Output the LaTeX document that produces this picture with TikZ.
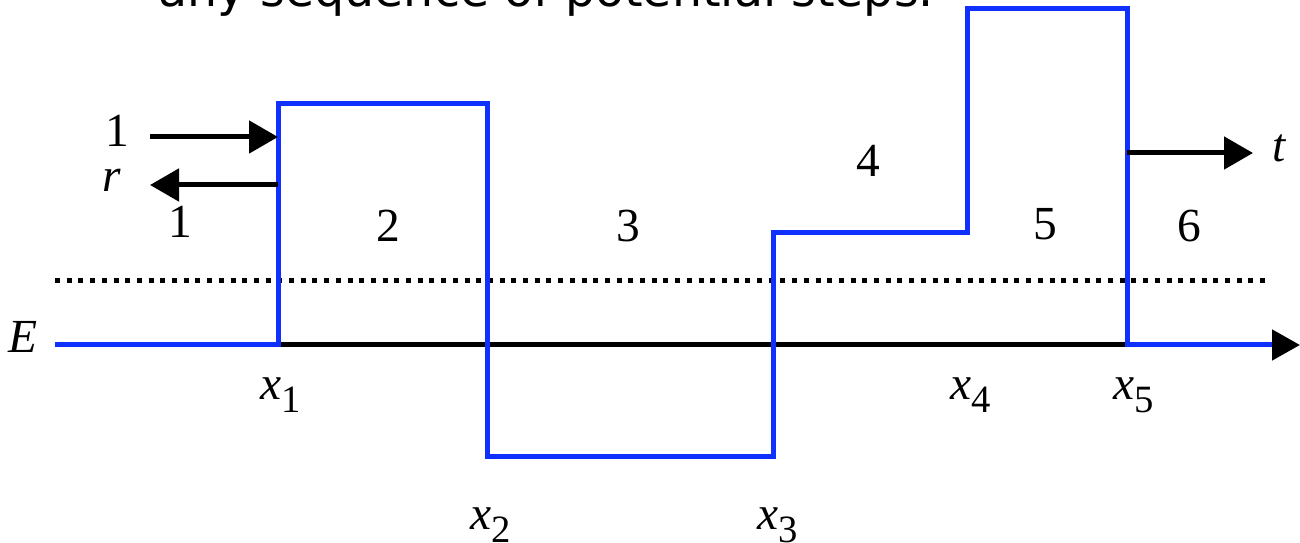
\documentclass[tikz,border=0pt]{standalone}
\usepackage{fontspec}
\usepackage{tikz}
\usetikzlibrary{arrows.meta}
\newfontfamily\labelfont{Liberation Serif}
\newfontfamily\headfont{DejaVu Sans}
\definecolor{potblue}{RGB}{16,48,255}
\newcommand{\xsub}[1]{\textit{x}\raisebox{-0.26cm}{\fontsize{22}{22}\selectfont #1}}

\begin{document}
\begin{tikzpicture}[
  lbl/.style={font=\labelfont\fontsize{27}{30}\selectfont,anchor=base,inner sep=0pt},
  head/.style={font=\headfont\fontsize{27}{30}\selectfont,anchor=base west,inner sep=0pt},
  profile/.style={potblue,line width=0.1cm},
  axis/.style={black,line width=0.1cm,-{Triangle[length=0.56cm,width=0.6cm]}},
  arrow/.style={black,line width=0.1cm,-{Triangle[length=0.58cm,width=0.64cm]}},
  level/.style={black,line width=0.1cm,dash pattern=on 0.1cm off 0.134cm}
]
\clip (0,0) rectangle (26,10.86);

\node[head] (title) at (3.16,10.72) {any sequence of potential steps.};

% step edges
\coordinate (X1) at (5.56,3.96);
\coordinate (X2) at (9.74,3.96);
\coordinate (X3) at (15.46,3.96);
\coordinate (X4) at (19.34,3.96);
\coordinate (X5) at (22.54,3.96);

\draw[level] (1.1,5.24) -- (25.36,5.24);
\draw[axis] (1.1,3.96) -- (26,3.96);
\draw[profile] (1.1,3.96) -- (X1) -- ++(0,4.82) -| (X2) -- ++(0,-2.24)
  -| (X3) -- ++(0,2.24) -| (19.34,10.68) -| (X5) -- (25.44,3.96);

% incoming, reflected, transmitted
\coordinate (inL) at (3.0,8.12);
\coordinate (inR) at (5.56,8.12);
\coordinate (refR) at (5.56,7.16);
\coordinate (refL) at (3.0,7.16);
\coordinate (trL) at (22.54,7.8);
\coordinate (trR) at (25.06,7.8);
\draw[arrow] (inL) -- (inR);
\draw[arrow] (refR) -- (refL);
\draw[arrow] (trL) -- (trR);

\node[lbl] (one) at (2.34,7.92) {1};
\node[lbl] (r) at (2.24,7.02) {\textit{r}};
\node[lbl] (t) at (25.6,7.62) {\textit{t}};
\node[lbl] (E) at (0.46,3.8) {\textit{E}};

\node[lbl] (R1) at (3.6,6.1) {1};
\node[lbl] (R2) at (7.76,6.02) {2};
\node[lbl] (R3) at (12.56,6.02) {3};
\node[lbl] (R4) at (17.36,7.32) {4};
\node[lbl] (R5) at (20.9,6.06) {5};
\node[lbl] (R6) at (23.78,6.02) {6};

\node[lbl] (x1) at (5.62,2.86) {\xsub{1}};
\node[lbl] (x2) at (9.82,0.26) {\xsub{2}};
\node[lbl] (x3) at (15.56,0.26) {\xsub{3}};
\node[lbl] (x4) at (19.42,2.86) {\xsub{4}};
\node[lbl] (x5) at (22.68,2.86) {\xsub{5}};

\end{tikzpicture}
\end{document}
